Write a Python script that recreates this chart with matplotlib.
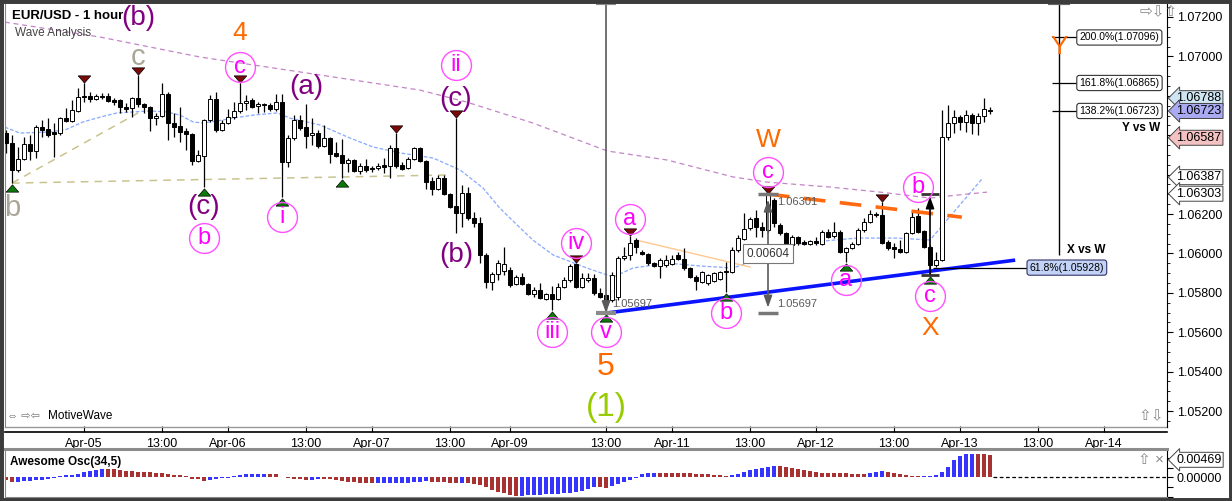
import numpy as np
import matplotlib
matplotlib.use('Agg')
import matplotlib.pyplot as plt
from matplotlib.transforms import offset_copy, blended_transform_factory
from matplotlib.patches import Rectangle

plt.rcParams['font.family'] = ['Liberation Sans', 'DejaVu Sans']

# ---- hourly EUR/USD bars, bar index 0 = Apr-05 00:00 ----
bar_idx = list(range(-13, 152))
opens = [1.06611, 1.06560, 1.06423, 1.06479, 1.06555, 1.06520, 1.06641, 1.06631, 1.06616, 1.06611,
         1.06687, 1.06672, 1.06723, 1.06798, 1.06798, 1.06783, 1.06798, 1.06798, 1.06778, 1.06778,
         1.06743, 1.06738, 1.06788, 1.06758, 1.06743, 1.06687, 1.06697, 1.06809, 1.06662, 1.06647,
         1.06621, 1.06606, 1.06469, 1.06495, 1.06677, 1.06783, 1.06626, 1.06662, 1.06692, 1.06723,
         1.06763, 1.06778, 1.06748, 1.06758, 1.06753, 1.06733, 1.06768, 1.06464, 1.06586, 1.06677,
         1.06641, 1.06601, 1.06611, 1.06545, 1.06586, 1.06510, 1.06500, 1.06459, 1.06474, 1.06418,
         1.06444, 1.06433, 1.06433, 1.06449, 1.06444, 1.06535, 1.06449, 1.06433, 1.06479, 1.06535,
         1.06469, 1.06367, 1.06327, 1.06383, 1.06301, 1.06240, 1.06205, 1.06306, 1.06179, 1.06154,
         1.05992, 1.05855, 1.05896, 1.05911, 1.05916, 1.05845, 1.05880, 1.05845, 1.05794, 1.05814,
         1.05768, 1.05794, 1.05768, 1.05829, 1.05865, 1.05946, 1.05829, 1.05865, 1.05875, 1.05799,
         1.05789, 1.05763, 1.05779, 1.05977, 1.05992, 1.06068, 1.06007, 1.05997, 1.05951, 1.05936,
         1.05941, 1.05946, 1.05992, 1.05971, 1.05926, 1.05880, 1.05855, 1.05850, 1.05860, 1.05870,
         1.05911, 1.05906, 1.06017, 1.06073, 1.06129, 1.06179, 1.06133, 1.06119, 1.06271, 1.06144,
         1.06103, 1.06042, 1.06083, 1.06058, 1.06047, 1.06063, 1.06047, 1.06108, 1.06088, 1.06108,
         1.06007, 1.06027, 1.06047, 1.06119, 1.06159, 1.06200, 1.06195, 1.06058, 1.06032, 1.06022,
         1.06007, 1.06103, 1.06189, 1.06113, 1.06032, 1.05941, 1.05966, 1.06591, 1.06662, 1.06692,
         1.06667, 1.06702, 1.06662, 1.06697, 1.06728]
highs = [1.06626, 1.06601, 1.06539, 1.06591, 1.06601, 1.06652, 1.06677, 1.06687, 1.06662, 1.06692,
         1.06738, 1.06778, 1.06839, 1.06865, 1.06819, 1.06809, 1.06814, 1.06814, 1.06788, 1.06783,
         1.06763, 1.06793, 1.06905, 1.06763, 1.06748, 1.06713, 1.06865, 1.06819, 1.06713, 1.06743,
         1.06636, 1.06611, 1.06525, 1.06682, 1.06804, 1.06819, 1.06677, 1.06733, 1.06768, 1.06865,
         1.06804, 1.06788, 1.06768, 1.06763, 1.06763, 1.06809, 1.06809, 1.06601, 1.06702, 1.06702,
         1.06758, 1.06687, 1.06626, 1.06652, 1.06591, 1.06565, 1.06580, 1.06484, 1.06479, 1.06459,
         1.06479, 1.06444, 1.06459, 1.06484, 1.06550, 1.06611, 1.06464, 1.06489, 1.06540, 1.06540,
         1.06474, 1.06388, 1.06398, 1.06398, 1.06306, 1.06687, 1.06347, 1.06337, 1.06210, 1.06184,
         1.06002, 1.05906, 1.05966, 1.06032, 1.05931, 1.05891, 1.05901, 1.05850, 1.05829, 1.05850,
         1.05799, 1.05834, 1.05850, 1.05880, 1.05946, 1.05951, 1.05901, 1.05901, 1.05896, 1.05824,
         1.05794, 1.05906, 1.05987, 1.06032, 1.06088, 1.06078, 1.06017, 1.06002, 1.05956, 1.05977,
         1.05992, 1.05992, 1.06007, 1.06027, 1.05931, 1.05891, 1.05911, 1.05896, 1.05906, 1.05911,
         1.05956, 1.06032, 1.06093, 1.06205, 1.06184, 1.06220, 1.06159, 1.06301, 1.06281, 1.06154,
         1.06108, 1.06093, 1.06088, 1.06068, 1.06068, 1.06083, 1.06119, 1.06124, 1.06159, 1.06119,
         1.06032, 1.06058, 1.06129, 1.06179, 1.06220, 1.06210, 1.06261, 1.06068, 1.06053, 1.06068,
         1.06108, 1.06210, 1.06230, 1.06119, 1.06042, 1.06007, 1.06728, 1.06753, 1.06728, 1.06702,
         1.06728, 1.06713, 1.06713, 1.06788, 1.06743]
lows = [1.06510, 1.06357, 1.06413, 1.06474, 1.06474, 1.06484, 1.06591, 1.06591, 1.06489, 1.06601,
        1.06667, 1.06667, 1.06718, 1.06768, 1.06768, 1.06778, 1.06783, 1.06768, 1.06753, 1.06713,
        1.06718, 1.06692, 1.06743, 1.06713, 1.06621, 1.06652, 1.06692, 1.06575, 1.06591, 1.06565,
        1.06525, 1.06449, 1.06464, 1.06337, 1.06667, 1.06616, 1.06621, 1.06657, 1.06682, 1.06713,
        1.06728, 1.06738, 1.06713, 1.06718, 1.06723, 1.06723, 1.06286, 1.06438, 1.06575, 1.06626,
        1.06535, 1.06550, 1.06535, 1.06540, 1.06459, 1.06489, 1.06383, 1.06413, 1.06413, 1.06403,
        1.06413, 1.06413, 1.06423, 1.06408, 1.06383, 1.06433, 1.06423, 1.06428, 1.06474, 1.06464,
        1.06327, 1.06296, 1.06322, 1.06296, 1.06230, 1.06103, 1.06133, 1.06169, 1.06133, 1.05951,
        1.05824, 1.05814, 1.05865, 1.05891, 1.05829, 1.05840, 1.05840, 1.05789, 1.05779, 1.05768,
        1.05763, 1.05712, 1.05763, 1.05824, 1.05855, 1.05824, 1.05824, 1.05855, 1.05789, 1.05774,
        1.05697, 1.05753, 1.05763, 1.05966, 1.05966, 1.06002, 1.05992, 1.05941, 1.05931, 1.05875,
        1.05931, 1.05941, 1.05966, 1.05916, 1.05875, 1.05814, 1.05850, 1.05840, 1.05855, 1.05865,
        1.05804, 1.05901, 1.06007, 1.06068, 1.06119, 1.06083, 1.06083, 1.06108, 1.06133, 1.06093,
        1.06042, 1.06032, 1.06042, 1.06042, 1.06042, 1.06042, 1.06042, 1.06078, 1.06078, 1.06002,
        1.05956, 1.06022, 1.06042, 1.06108, 1.06154, 1.06184, 1.06047, 1.06017, 1.05977, 1.06002,
        1.06002, 1.06098, 1.06103, 1.06027, 1.05888, 1.05931, 1.05961, 1.06575, 1.06611, 1.06626,
        1.06616, 1.06606, 1.06601, 1.06667, 1.06708]
closes = [1.06560, 1.06423, 1.06479, 1.06555, 1.06520, 1.06641, 1.06626, 1.06601, 1.06606, 1.06687,
          1.06672, 1.06728, 1.06793, 1.06793, 1.06783, 1.06798, 1.06793, 1.06773, 1.06768, 1.06743,
          1.06733, 1.06788, 1.06758, 1.06743, 1.06687, 1.06697, 1.06809, 1.06662, 1.06641, 1.06616,
          1.06606, 1.06469, 1.06500, 1.06677, 1.06783, 1.06626, 1.06662, 1.06692, 1.06723, 1.06763,
          1.06773, 1.06743, 1.06758, 1.06753, 1.06733, 1.06768, 1.06464, 1.06586, 1.06677, 1.06636,
          1.06596, 1.06611, 1.06545, 1.06586, 1.06505, 1.06495, 1.06459, 1.06474, 1.06418, 1.06444,
          1.06423, 1.06428, 1.06444, 1.06438, 1.06535, 1.06444, 1.06428, 1.06479, 1.06535, 1.06469,
          1.06362, 1.06327, 1.06383, 1.06301, 1.06235, 1.06205, 1.06306, 1.06179, 1.06154, 1.05992,
          1.05855, 1.05896, 1.05951, 1.05946, 1.05840, 1.05880, 1.05845, 1.05794, 1.05814, 1.05774,
          1.05794, 1.05768, 1.05829, 1.05865, 1.05936, 1.05829, 1.05875, 1.05875, 1.05799, 1.05779,
          1.05763, 1.05891, 1.05977, 1.05987, 1.06053, 1.06032, 1.05997, 1.05951, 1.05936, 1.05966,
          1.05966, 1.05971, 1.05971, 1.05926, 1.05880, 1.05860, 1.05906, 1.05891, 1.05901, 1.05906,
          1.05906, 1.06017, 1.06078, 1.06124, 1.06174, 1.06133, 1.06119, 1.06296, 1.06154, 1.06103,
          1.06047, 1.06083, 1.06053, 1.06047, 1.06063, 1.06053, 1.06108, 1.06083, 1.06108, 1.06007,
          1.06027, 1.06047, 1.06119, 1.06159, 1.06200, 1.06195, 1.06053, 1.06027, 1.06022, 1.06007,
          1.06103, 1.06184, 1.06108, 1.06032, 1.05941, 1.05966, 1.06591, 1.06662, 1.06692, 1.06667,
          1.06702, 1.06662, 1.06697, 1.06733, 1.06723]

# moving averages (bar index, price)
blue_ma_idx = [-13.2, -10.7, -5.7, -2.8, -0.2, 2.7, 5.5, 11, 13.8, 16, 18.2, 19.8, 22.2, 24.8, 28.2,
               32.2, 34.3, 39.3, 44.3, 48.2, 52.7, 58.2, 62.7, 66.5, 69.3, 72.2, 74.8, 78.2, 83.8,
               88.2, 91.5, 97.2, 102.7, 108.2, 111, 114.3, 117.7, 121.5, 128.8, 135.5, 141, 149.8]
blue_ma_val = [1.06641, 1.06611, 1.06616, 1.06631, 1.06667, 1.06692, 1.06713, 1.06723, 1.06718,
               1.06702, 1.06667, 1.06662, 1.06672, 1.06687, 1.06702, 1.06713, 1.06687, 1.06652,
               1.06586, 1.06540, 1.06510, 1.06484, 1.06423, 1.06332, 1.06230, 1.06144, 1.06068,
               1.05992, 1.05926, 1.05880, 1.05926, 1.05951, 1.05936, 1.05926, 1.05956, 1.06017,
               1.06042, 1.06058, 1.06078, 1.06078, 1.06068, 1.06383]
purple_ma_idx = [-13.2, 2.7, 19.3, 36, 56, 63.8, 74.8, 87.2, 97.2, 108.2, 113.8, 124.3, 132.7, 141,
                 145.5, 150.5]
purple_ma_val = [1.07174, 1.07098, 1.06997, 1.06921, 1.06829, 1.06768, 1.06662, 1.06520, 1.06474,
                 1.06388, 1.06362, 1.06337, 1.06311, 1.06281, 1.06296, 1.06311]

# awesome oscillator (34,5), one value per bar, u = rising (blue), d = falling (red)
osc_vals = [-0.00056, -0.00090, -0.00088, -0.00085, -0.00080, -0.00065, -0.00050, -0.00035, -0.00021, 0.00021,
            0.00042, 0.00049, 0.00070, 0.00118, 0.00139, 0.00153, 0.00176, 0.00172, 0.00167,
            0.00153, 0.00139, 0.00125, 0.00118, 0.00111, 0.00104, 0.00097, 0.00090, 0.00070, 0.00049,
            0.00042, 0.00021, -0.00028, -0.00042, -0.00070, -0.00056, -0.00028, -0.00021, -0.00005, 0.00035,
            0.00056, 0.00060, 0.00066, 0.00070, 0.00072, 0.00070, 0.00063, 0.00014, -0.00014, -0.00028,
            -0.00035, -0.00056, -0.00050, -0.00035, -0.00038, -0.00042, -0.00056, -0.00076, -0.00090, -0.00097,
            -0.00111, -0.00125, -0.00128, -0.00125, -0.00120, -0.00118, -0.00113, -0.00111, -0.00108, -0.00097,
            -0.00090, -0.00083, -0.00090, -0.00097, -0.00104, -0.00111, -0.00118, -0.00111, -0.00125, -0.00139,
            -0.00160, -0.00209, -0.00264, -0.00306, -0.00334, -0.00369, -0.00385, -0.00382, -0.00375, -0.00369,
            -0.00361, -0.00354, -0.00348, -0.00345, -0.00334, -0.00320, -0.00306, -0.00278, -0.00250, -0.00200,
            -0.00210, -0.00215,
            -0.00181, -0.00139, -0.00104, -0.00056, -0.00010, 0.00070, 0.00083, 0.00090,
            0.00088, 0.00086, 0.00084, 0.00083, 0.00082, 0.00080, 0.00076, 0.00070, 0.00063, 0.00049,
            0.00042, 0.00035,
            0.00049, 0.00070, 0.00118, 0.00153, 0.00174, 0.00202, 0.00222, 0.00236,
            0.00230, 0.00215, 0.00195, 0.00174, 0.00153, 0.00125, 0.00104, 0.00094, 0.00092, 0.00090,
            0.00088, 0.00083, 0.00076, 0.00070, 0.00063,
            0.00083, 0.00104, 0.00139,
            0.00118, 0.00097, 0.00070, 0.00049, 0.00035, 0.00021,
            0.00028, 0.00035, 0.00049, 0.00118, 0.00222, 0.00361, 0.00445, 0.00480, 0.00488,
            0.00485, 0.00480, 0.00469]
osc_dir = ('dd' 'uuuuuuuuuuuuuuu' 'ddddddddddddddddd' 'uuuuuuuuuu' 'ddddddd' 'uu' 'ddddddddd'
           'uuuuuuuuu' 'ddddd' 'u' 'ddddddddd' 'uuuuuuuuuuuuu' 'dd'
           'uuuuuuuu' 'dddddddddddd' 'uuuuuuuu' 'ddddddddddddddd' 'uuu' 'dddddd' 'uuuuuuuuu' 'ddd')

tick_idx = [0, 13, 24, 37, 48, 61, 71, 87, 98, 111, 122, 135, 146, 159, 170]
tick_lbl = ['Apr-05', '13:00', 'Apr-06', '13:00', 'Apr-07', '13:00', 'Apr-09', '13:00',
            'Apr-11', '13:00', 'Apr-12', '13:00', 'Apr-13', '13:00', 'Apr-14']

swing_highs = [0, 9, 26, 52, 62, 82, 91, 114, 133]
swing_lows = [-12, 20, 33, 43, 78, 87, 107, 127, 141]

# wave labels: text, bar, anchored at High/Low, pixel offset (down +), style
wave_labels = [
    ('(b)', 9, 'H', -57, 'purple'), ('c', 9, 'H', -18, 'gray'),
    ('4', 26, 'H', -50, 'orange'), ('c', 26, 'H', -16, 'circle'),
    ('(a)', 37, 'H', -17, 'purple'),
    ('ii', 62, 'H', -53, 'circle'), ('(c)', 62, 'H', -19, 'purple'), ('(b)', 62, 'L', 22, 'purple'),
    ('b', -12, 'L', 25, 'gray'),
    ('(c)', 20, 'L', 20, 'purple'), ('b', 20, 'L', 51, 'circle'),
    ('i', 33, 'L', 20, 'circle'),
    ('iv', 82, 'H', -20, 'circle'), ('iii', 78, 'L', 22, 'circle'),
    ('v', 87, 'L', 19, 'circle'), ('5', 87, 'L', 54, 'big'), ('(1)', 87, 'L', 94, 'green'),
    ('a', 91, 'H', -17, 'circle'),
    ('W', 114, 'H', -54, 'orange'), ('c', 114, 'H', -22, 'circle'),
    ('b', 107, 'L', 21, 'circle'), ('a', 127, 'L', 18, 'circle'),
    ('b', 139, 'H', -21, 'circle'),
    ('c', 141, 'L', 21, 'circle'), ('X', 141, 'L', 53, 'orange'),
]

# drawn trend lines (bar, price) pairs
khaki_lines = [[(-12, 1.06357), (9, 1.06713)], [(-12, 1.06357), (60.5, 1.06398)]]
pale_orange_line = [(92, 1.06068), (111, 1.05931)]
support_line = [(87, 1.05697), (155.2, 1.05966)]
resist_line = [(114, 1.06301), (146.3, 1.06184)]

fib_x = 162.5
fib_levels = [('200.0%', 1.07096), ('161.8%', 1.06865), ('138.2%', 1.06723)]
xw_level = ('61.8%', 1.05928)
price_tags = [('1.06788', '#cfe6f2'), ('1.06723', '#aaaaf2'), ('1.06587', '#f4c2c2'),
              ('1.06387', 'white'), ('1.06303', 'white')]

# ---------------------------------------------------------------------------
W, H = 1232, 501
fig = plt.figure(figsize=(W / 100, H / 100), dpi=100)


def rect(x0, y0, x1, y1):
    return [x0 / W, 1 - y1 / H, (x1 - x0) / W, (y1 - y0) / H]


ax = fig.add_axes(rect(5, 3, 1167, 427))
ax2 = fig.add_axes(rect(5, 449, 1167, 497), sharex=ax)

x = np.array(bar_idx)
o, h, l, c = map(np.array, (opens, highs, lows, closes))
ymin, ymax = 1.05119, 1.07271
ax.set_xlim(-13.17, 180.5)
ax.set_ylim(ymin, ymax)


def shift(dy, dx=0, base=None):
    return offset_copy(base if base is not None else ax.transData, fig=fig, x=dx, y=-dy, units='dots')


def hi(b):
    return highs[b - bar_idx[0]]


def lo(b):
    return lows[b - bar_idx[0]]


# moving averages & trend lines
ax.plot(blue_ma_idx, blue_ma_val, color='#86a9ff', lw=0.9, dashes=(3, 1.5), zorder=1)
ax.plot(purple_ma_idx, purple_ma_val, color='#c484c8', lw=0.9, dashes=(4, 3), zorder=1)
for seg in khaki_lines:
    ax.plot(*zip(*seg), color='#c9c38f', lw=1.1, dashes=(5, 4), zorder=1)
ax.plot(*zip(*pale_orange_line), color='#ffc890', lw=1, zorder=1)

# candles
ax.vlines(x, l, h, color='black', lw=0.9, zorder=2)
up = c >= o
body_lo = np.minimum(o, c)
body_h = np.maximum(np.abs(c - o), 0.00002)
ax.bar(x, body_h, bottom=body_lo, width=0.7, color=np.where(up, 'white', 'black'),
       edgecolor='black', linewidth=0.7, zorder=3)

ax.plot(*zip(*support_line), color='#0a14ff', lw=2.6, zorder=4, solid_capstyle='butt')
ax.plot(*zip(*resist_line), color='#ff6a10', lw=2.6, dashes=(6, 4), zorder=4)

# swing markers
tri_dn = [(-6, 3.5), (6, 3.5), (0, -3.5), (-6, 3.5)]
tri_up = [(-6, -3.5), (6, -3.5), (0, 3.5), (-6, -3.5)]
for b in swing_highs:
    ax.plot([b], [hi(b)], marker=tri_dn, ms=9, mfc='#7a0a0a', mec='black', mew=0.5,
            transform=shift(-4), zorder=5)
for b in swing_lows:
    ax.plot([b], [lo(b)], marker=tri_up, ms=9, mfc='#0b7a0b', mec='black', mew=0.5,
            transform=shift(5), zorder=5)

styles = {
    'purple': dict(color='#800080', fontsize=20),
    'gray': dict(color='#aaa798', fontsize=21),
    'orange': dict(color='#ff6a00', fontsize=19),
    'big': dict(color='#ff6a00', fontsize=23),
    'green': dict(color='#99cc00', fontsize=24),
    'circle': dict(color='#ff00ff', fontsize=17),
}
for txt, b, side, dy, kind in wave_labels:
    y = hi(b) if side == 'H' else lo(b)
    if kind == 'circle':
        ax.plot([b], [y], marker='o', ms=21.5, mfc='none', mec='#ff50ff', mew=1.0,
                transform=shift(dy), zorder=6, clip_on=False)
    ax.text(b, y, txt, ha='center', va='center', transform=shift(dy), zorder=7, **styles[kind])

ax.text(fib_x, 1.07048, 'Y', ha='center', va='center', zorder=7, **styles['orange'])

# measuring tools
gray = '#5a5a5a'
ax.annotate('', xy=(87, lo(87)), xytext=(87, ymax), zorder=5,
            arrowprops=dict(arrowstyle='-|>,head_length=0.7,head_width=0.25', color=gray, lw=1.2,
                            shrinkA=0, shrinkB=0))
for yy in (ymax, lo(87)):
    ax.hlines(yy, 85.3, 88.7, color='#8a8a8a', lw=3, zorder=5, clip_on=False)
ax.text(88, lo(87), '1.05697', color=gray, fontsize=8, ha='left', va='center',
        transform=shift(-9), zorder=7)

ax.annotate('', xy=(114, hi(114)), xytext=(114, lo(87)), zorder=5,
            arrowprops=dict(arrowstyle='<|-|>,head_length=0.7,head_width=0.25', color=gray, lw=1.2,
                            shrinkA=4, shrinkB=4))
for yy in (hi(114), lo(87)):
    ax.hlines(yy, 112.3, 115.7, color='#777777', lw=2.5, zorder=5)
ax.text(115.5, hi(114), '1.06301', color=gray, fontsize=8, ha='left', va='center',
        transform=shift(8), zorder=7)
ax.text(115.5, lo(87), '1.05697', color=gray, fontsize=8, ha='left', va='center',
        transform=shift(-9), zorder=7)
ax.text(114, (hi(114) + lo(87)) / 2, '0.00604', color='#333333', fontsize=8.5, ha='center',
        va='center', zorder=8,
        bbox=dict(boxstyle='square,pad=0.3', fc='white', ec='#777777', lw=0.8))

ax.annotate('', xy=(141, 1.06303), xytext=(141, lo(141)), zorder=5,
            arrowprops=dict(arrowstyle='-|>,head_length=0.7,head_width=0.25', color='black', lw=1.2,
                            shrinkA=0, shrinkB=2))
for yy in (1.06303, lo(141)):
    ax.hlines(yy, 139.5, 142.5, color='#333333', lw=2, zorder=5)

# fibonacci projections
ax.vlines(fib_x, 1.0599, ymax, color='black', lw=1, zorder=4)
ax.hlines(ymax, fib_x - 1.8, fib_x + 1.8, color='#666666', lw=3, zorder=5, clip_on=False)
for pct, val in fib_levels:
    ax.hlines(val, fib_x - 1.2, 165.6, color='black', lw=0.9, zorder=4)
    ax.text(165.9, val, f'{pct}({val:.5f})', fontsize=7.5, ha='left', va='center', zorder=8,
            bbox=dict(boxstyle='round,pad=0.25', fc='white', ec='#333333', lw=0.8))
ax.text(179.4, 1.06636, 'Y vs W', fontsize=8.5, weight='bold', ha='right', va='center')
ax.hlines(xw_level[1], 141.5, 157.3, color='black', lw=0.9, zorder=4)
ax.text(157.6, xw_level[1], f'{xw_level[0]}({xw_level[1]:.5f})', fontsize=7.5, ha='left',
        va='center', zorder=8,
        bbox=dict(boxstyle='round,pad=0.25', fc='#c3d3f7', ec='#333366', lw=0.8))
ax.text(163.8, 1.06017, 'X vs W', fontsize=8.5, weight='bold', ha='left', va='center')

# right price axis
yt = np.arange(1.052, 1.0721, 0.002)
hidden = {'1.06800', '1.06600', '1.06400'}
ax.set_yticks(yt)
ax.set_yticklabels(['' if f'{v:.5f}' in hidden else f'{v:.5f}' for v in yt])
ax.set_yticks(np.arange(1.0515, 1.0727, 0.0005), minor=True)
ax.yaxis.set_ticks_position('right')
ax.tick_params(axis='y', which='major', direction='out', length=4, labelsize=9, pad=3)
ax.tick_params(axis='y', which='minor', direction='out', length=2)

blend = blended_transform_factory(ax.transAxes, ax.transData)
for txt, fc in price_tags:
    ax.text(1.008, float(txt), txt, transform=blend, fontsize=9, ha='left', va='center',
            zorder=9, clip_on=False,
            bbox=dict(boxstyle='larrow,pad=0.12', fc=fc, ec='#444444', lw=0.7))

# date axis
ax.set_xticks(tick_idx)
ax.set_xticklabels(tick_lbl)
ax.tick_params(axis='x', direction='in', length=4, pad=4, labelsize=9)
ax.spines['bottom'].set_position(('outward', 3.6))
ax.spines['bottom'].set_linewidth(1.2)
ax.plot([0, 1], [0, 0], transform=ax.transAxes, color='#999999', lw=1, clip_on=False)
ax.spines['top'].set_visible(False)
ax.spines['left'].set_color('#888888')
ax.spines['right'].set_color('black')

# awesome oscillator panel
osc_colors = ['#3535ff' if d == 'u' else '#a83232' for d in osc_dir]
ax2.bar(x, osc_vals, width=0.8, color=osc_colors, linewidth=0)
ax2.plot([151.5, 180.5], [0, 0], color='black', lw=0.9, dashes=(3, 2))
ax2.set_ylim(-0.0041, 0.0059)
ax2.yaxis.set_ticks_position('right')
ax2.set_yticks([-0.004, -0.002, 0.0, 0.002, 0.004])
ax2.set_yticklabels(['', '', '0.00000', '', ''])
ax2.tick_params(axis='y', direction='out', length=4, labelsize=9, pad=3)
ax2.tick_params(axis='x', bottom=False, labelbottom=False)
for s in ('left', 'bottom'):
    ax2.spines[s].set_color('#888888')
ax2.spines['top'].set_color('#8c8c8c')
ax2.spines['top'].set_linewidth(2.2)
blend2 = blended_transform_factory(ax2.transAxes, ax2.transData)
ax2.text(1.008, osc_vals[-1], f'{osc_vals[-1]:.5f}', fontsize=9, ha='left', va='center',
         transform=shift(5, base=blend2), clip_on=False, zorder=9,
         bbox=dict(boxstyle='larrow,pad=0.12', fc='white', ec='#444444', lw=0.7))

# captions and decorations
fig.text(12 / W, 1 - 16 / H, 'EUR/USD - 1 hour', fontsize=9.5, weight='bold', va='center')
fig.text(15 / W, 1 - 33 / H, 'Wave Analysis', fontsize=8.5, color='#444444', va='center')
fig.text(7 / W, 1 - 416 / H, '⇔ ⇨⇦', fontsize=8, color='#777777', va='center')
fig.text(48 / W, 1 - 416 / H, 'MotiveWave', fontsize=8.5, va='center')
fig.text(10 / W, 1 - 462 / H, 'Awesome Osc(34,5)', fontsize=8.5, weight='bold', va='center')
fig.text(1140 / W, 1 - 12 / H, '⇨⇩⇧', fontsize=11, color='#888888', va='center')
fig.text(1138 / W, 1 - 416 / H, '⇧⇩', fontsize=11, color='#888888', va='center')
fig.text(1138 / W, 1 - 460 / H, '⇧ ×', fontsize=11, color='#888888', va='center')

fig.add_artist(Rectangle((0, 0), 1, 1, transform=fig.transFigure, fill=False,
                         ec='#3c3c3c', lw=5))

fig.savefig('out.png', dpi=100)
